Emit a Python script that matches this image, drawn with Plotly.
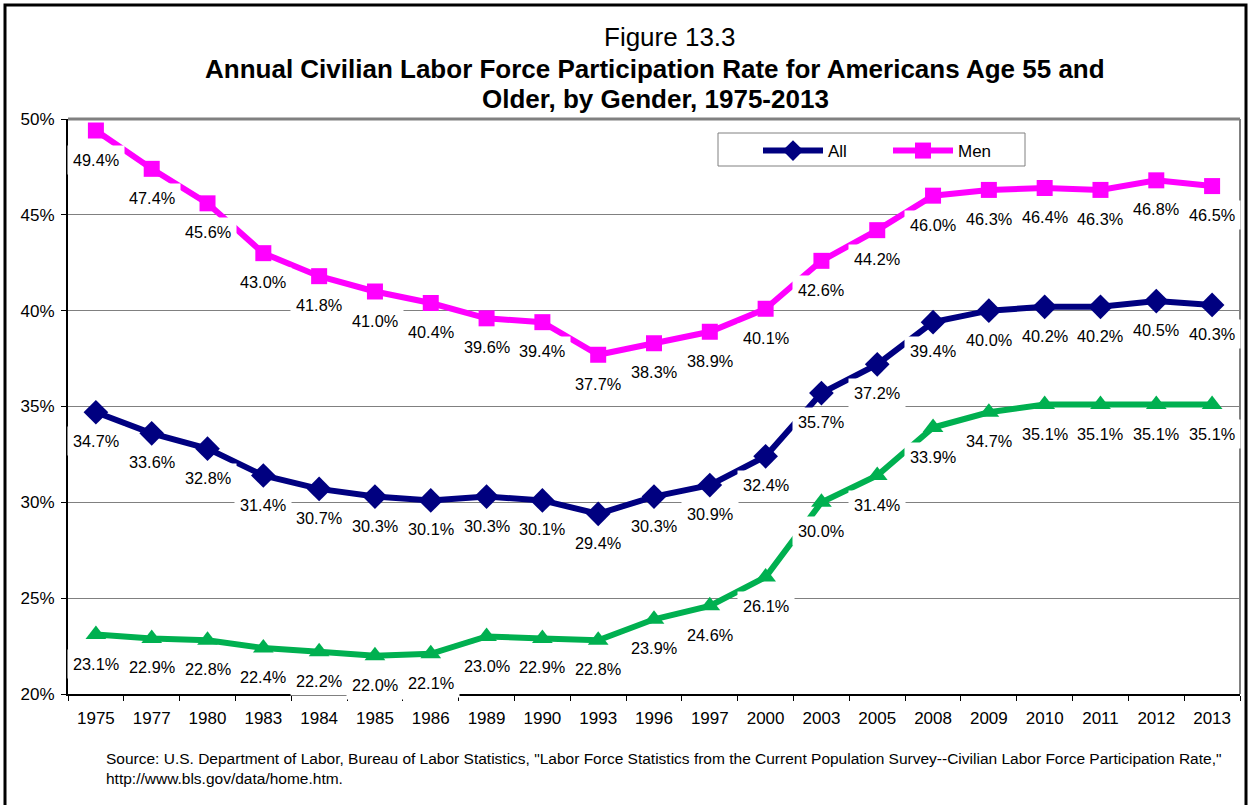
import plotly.graph_objects as go

years = ["1975", "1977", "1980", "1983", "1984", "1985", "1986", "1989", "1990", "1993",
         "1996", "1997", "2000", "2003", "2005", "2008", "2009", "2010", "2011", "2012", "2013"]
all_vals = [34.7, 33.6, 32.8, 31.4, 30.7, 30.3, 30.1, 30.3, 30.1, 29.4,
            30.3, 30.9, 32.4, 35.7, 37.2, 39.4, 40.0, 40.2, 40.2, 40.5, 40.3]
men_vals = [49.4, 47.4, 45.6, 43.0, 41.8, 41.0, 40.4, 39.6, 39.4, 37.7,
            38.3, 38.9, 40.1, 42.6, 44.2, 46.0, 46.3, 46.4, 46.3, 46.8, 46.5]
women_vals = [23.1, 22.9, 22.8, 22.4, 22.2, 22.0, 22.1, 23.0, 22.9, 22.8,
              23.9, 24.6, 26.1, 30.0, 31.4, 33.9, 34.7, 35.1, 35.1, 35.1, 35.1]
y_ticks = [20, 25, 30, 35, 40, 45, 50]

FONT = "Arial, Liberation Sans, sans-serif"
W, H = 1253, 805
ML, MR, MT, MB = 68, 13, 119, 111
PW, PH = W - ML - MR, H - MT - MB


def px_x(p):
    return (p - ML) / PW


def px_y(p):
    return (H - MB - p) / PH


fig = go.Figure()
fig.add_trace(go.Scatter(x=years, y=women_vals, name="Women", showlegend=False,
                         mode="lines+markers", line=dict(color="#00B050", width=6),
                         marker=dict(symbol="triangle-up", size=18, color="#00B050")))
fig.add_trace(go.Scatter(x=years, y=all_vals, name="All",
                         mode="lines+markers", line=dict(color="#000080", width=6),
                         marker=dict(symbol="diamond", size=19, color="#000080")))
fig.add_trace(go.Scatter(x=years, y=men_vals, name="Men",
                         mode="lines+markers", line=dict(color="#FF00FF", width=6),
                         marker=dict(symbol="square", size=16, color="#FF00FF")))

annotations = []
for series in (men_vals, all_vals, women_vals):
    for i, v in enumerate(series):
        annotations.append(dict(x=i, y=v, xref="x", yref="y", text=f"{v:.1f}%",
                                showarrow=False, yshift=-29, xanchor="center", yanchor="middle",
                                bgcolor="white", borderpad=5,
                                font=dict(family=FONT, size=16.3, color="black")))


def paper_text(xp, yp, text, size, anchor="center"):
    return dict(x=px_x(xp), y=px_y(yp), xref="paper", yref="paper", text=text,
                showarrow=False, xanchor=anchor, yanchor="middle", align=anchor if anchor != "center" else "center",
                font=dict(family=FONT, size=size, color="black"))


annotations += [
    paper_text(670, 37, "Figure 13.3", 26),
    paper_text(655, 69, "<b>Annual Civilian Labor Force Participation Rate for Americans Age 55 and</b>", 26),
    paper_text(655, 99, "<b>Older, by Gender, 1975-2013</b>", 26),
    paper_text(104, 768, "Source: U.S. Department of Labor, Bureau of Labor Statistics, \"Labor Force Statistics from the Current Population Survey--Civilian Labor Force Participation Rate,\"<br>http://www.bls.gov/data/home.htm.", 15.5, anchor="left"),
]

shapes = [
    # outer border
    dict(type="rect", xref="paper", yref="paper", x0=px_x(5), x1=px_x(1246),
         y0=px_y(812), y1=px_y(5), line=dict(color="black", width=3), layer="below"),
    # plot area top and right border
    dict(type="line", xref="paper", yref="paper", x0=0, x1=1, y0=1, y1=1,
         line=dict(color="#808080", width=3), layer="below"),
    dict(type="line", xref="paper", yref="paper", x0=1, x1=1, y0=0, y1=1,
         line=dict(color="#808080", width=2), layer="below"),
    # legend box
    dict(type="rect", xref="paper", yref="paper", x0=px_x(718), x1=px_x(1025),
         y0=px_y(166), y1=px_y(133), line=dict(color="#808080", width=1),
         fillcolor="white", layer="below"),
]

fig.update_layout(
    width=W, height=H,
    margin=dict(l=ML, r=MR, t=MT, b=MB),
    paper_bgcolor="white", plot_bgcolor="white",
    font=dict(family=FONT, size=14, color="black"),
    annotations=annotations, shapes=shapes,
    legend=dict(orientation="h", x=px_x(758), y=px_y(133), xanchor="left", yanchor="top",
                borderwidth=0, bgcolor="rgba(0,0,0,0)",
                itemwidth=60, entrywidth=55, font=dict(family=FONT, size=17, color="black"),
                traceorder="normal"),
    xaxis=dict(type="category", range=[-0.5, 20.5], showgrid=False, showline=True,
               linecolor="black", linewidth=2, ticks="outside", tickson="boundaries",
               ticklen=5, tickcolor="black", tickfont=dict(family=FONT, size=17, color="black"),
               ticklabelstandoff=8, zeroline=False),
    yaxis=dict(range=[20, 50], tickvals=y_ticks, ticktext=[f"{t}%" for t in y_ticks],
               showgrid=True, gridcolor="#808080", gridwidth=1, showline=True,
               linecolor="black", linewidth=2, ticks="outside", ticklen=5, tickcolor="black",
               tickfont=dict(family=FONT, size=17, color="black"), ticklabelstandoff=3,
               zeroline=False),
)

fig.write_html("out.html", config={"displayModeBar": False},
               post_script="document.body.style.margin='0';document.body.style.overflow='hidden';")
